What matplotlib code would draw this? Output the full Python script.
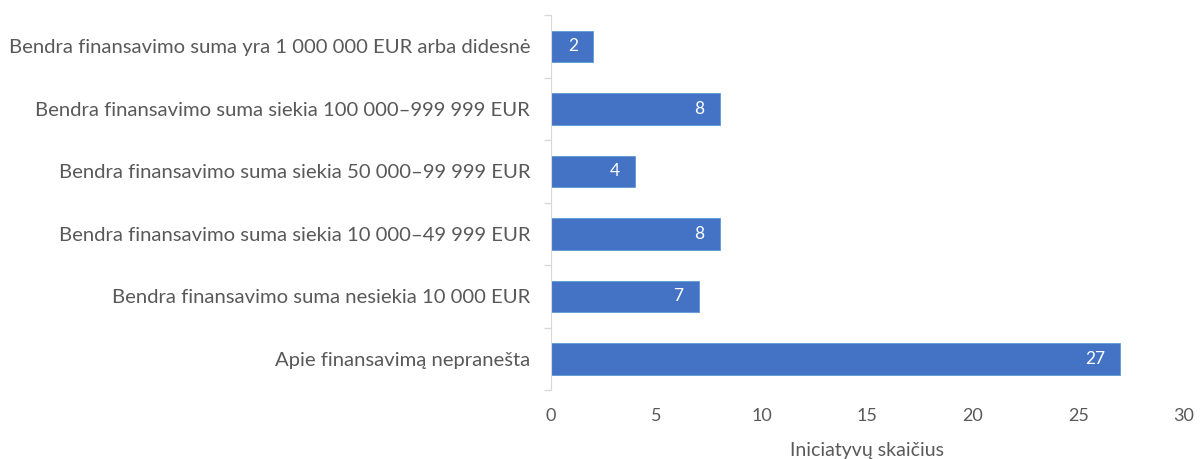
import matplotlib
matplotlib.use('Agg')
import matplotlib.pyplot as plt

# data (top to bottom as shown)
categories = [
    'Bendra finansavimo suma yra 1 000 000 EUR arba didesnė',
    'Bendra finansavimo suma siekia 100 000–999 999 EUR',
    'Bendra finansavimo suma siekia 50 000–99 999 EUR',
    'Bendra finansavimo suma siekia 10 000–49 999 EUR',
    'Bendra finansavimo suma nesiekia 10 000 EUR',
    'Apie finansavimą nepranešta',
]
counts = [2, 8, 4, 8, 7, 27]
x_ticks = [0, 5, 10, 15, 20, 25, 30]

plt.rcParams['font.family'] = ['Lato', 'DejaVu Sans']
grey = '#595959'
blue = '#4472C4'

fig = plt.figure(figsize=(12.03, 4.59), dpi=100)
ax = fig.add_axes([0.458, 0.150, 0.526, 0.817])

ypos = list(range(len(categories)))
ax.barh(ypos, counts, height=0.5, color=blue, edgecolor='#5B9BD5', linewidth=0.6)

for y, v in zip(ypos, counts):
    ax.annotate(str(v), xy=(v, y), xytext=(-15, 0), textcoords='offset pixels',
                ha='right', va='center', color='white', fontsize=12.5)

ax.set_ylim(len(categories) - 0.5, -0.5)
ax.set_xlim(0, 30)
ax.set_yticks(ypos)
ax.set_yticklabels(categories, fontsize=14.6, color=grey)
ax.set_yticks([i - 0.5 for i in range(len(categories) + 1)], minor=True)
ax.tick_params(axis='y', which='major', length=0, pad=15)
ax.tick_params(axis='y', which='minor', length=5, color='#d9d9d9', width=1)

ax.set_xticks(x_ticks)
ax.tick_params(axis='x', length=0, labelsize=13, labelcolor=grey, pad=13)
ax.set_xlabel('Iniciatyvų skaičius', fontsize=14, color=grey, labelpad=13)

for s in ['top', 'right', 'bottom']:
    ax.spines[s].set_visible(False)
ax.spines['left'].set_color('#d9d9d9')

fig.savefig('out.png', dpi=100)
